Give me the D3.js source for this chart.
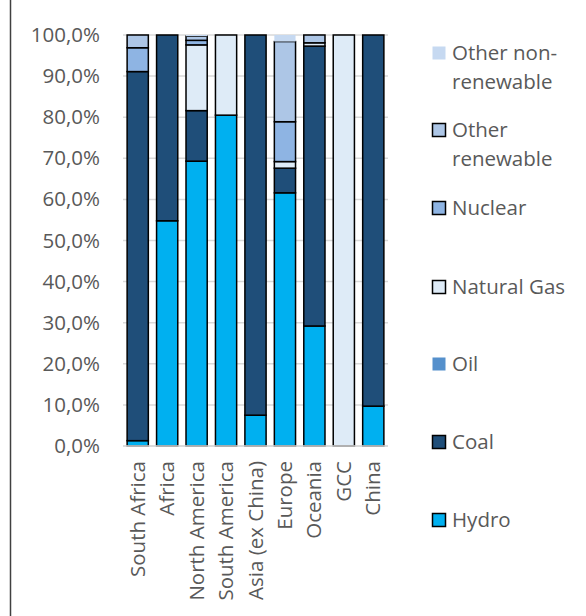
<!DOCTYPE html>
<html>
<head>
<meta charset="utf-8">
<script src="https://d3js.org/d3.v7.min.js"></script>
<style>
  body { margin: 0; background: #fff; }
  text { font-family: "Open Sans", "Noto Sans", sans-serif; fill: #595959; }
</style>
</head>
<body>
<div id="chart"></div>
<script>
// regions along the x axis
const regions = ["South Africa", "Africa", "North America", "South America",
  "Asia (ex China)", "Europe", "Oceania", "GCC", "China"];

// share of generation per source (%), one value per region
const hydro       = [1.3, 54.8, 69.3, 80.5, 7.5, 61.6, 29.2, 0, 9.7];
const coal        = [89.8, 45.2, 12.3, 0, 92.5, 6.0, 68.1, 0, 90.3];
const oil         = [0, 0, 0, 0, 0, 0, 0, 0, 0];
const naturalGas  = [0, 0, 16.0, 19.5, 0, 1.6, 0.8, 100, 0];
const nuclear     = [5.8, 0, 1.1, 0, 0, 9.7, 0, 0, 0];
const otherRenew  = [3.1, 0, 1.0, 0, 0, 19.5, 1.9, 0, 0];
const otherNonRen = [0, 0, 0.3, 0, 0, 1.6, 0, 0, 0];

const yTicks = [0, 10, 20, 30, 40, 50, 60, 70, 80, 90, 100];

const series = [
  {name: "Hydro", values: hydro, color: "#00b0f0", border: true},
  {name: "Coal", values: coal, color: "#1f4e79", border: true},
  {name: "Oil", values: oil, color: "#5590cc", border: false},
  {name: "Natural Gas", values: naturalGas, color: "#deebf7", border: true},
  {name: "Nuclear", values: nuclear, color: "#8eb4e3", border: true},
  {name: "Other renewable", values: otherRenew, color: "#adc6e6", border: true},
  {name: "Other non-renewable", values: otherNonRen, color: "#c6d9f1", border: false}
];

const W = 586, H = 616;
const svg = d3.select("#chart").append("svg").attr("width", W).attr("height", H);

// chart area border (only the left edge shows in the crop)
svg.append("line").attr("x1", 10.5).attr("x2", 10.5).attr("y1", 0).attr("y2", H)
  .attr("stroke", "#404040").attr("stroke-width", 1.5);

const x = d3.scaleBand().domain(regions).range([123, 388]).paddingInner(0.28).paddingOuter(0.14);
const y = d3.scaleLinear().domain([0, 100]).range([446, 35]);

// gridlines
svg.append("g").selectAll("line").data(yTicks).enter().append("line")
  .attr("x1", 123).attr("x2", 388)
  .attr("y1", d => y(d)).attr("y2", d => y(d))
  .attr("stroke", "#d9d9d9").attr("stroke-width", 1.5);

// y axis labels
const yAxis = d3.axisLeft(y).tickValues(yTicks).tickSize(0).tickPadding(0)
  .tickFormat(d => d.toFixed(1).replace(".", ",") + "%");
const ya = svg.append("g").attr("transform", "translate(100,0)").call(yAxis);
ya.select(".domain").remove();
ya.selectAll("text").style("font-size", "20.5px").attr("fill", "#595959");

// stacked bars
const rows = regions.map((r, i) => {
  const o = {region: r};
  series.forEach(s => o[s.name] = s.values[i]);
  return o;
});
const stack = d3.stack().keys(series.map(s => s.name))(rows);

stack.forEach((layer, k) => {
  const s = series[k];
  svg.append("g").selectAll("rect").data(layer.filter(d => d[1] - d[0] > 0)).enter().append("rect")
    .attr("x", d => x(d.data.region))
    .attr("width", x.bandwidth())
    .attr("y", d => y(d[1]))
    .attr("height", d => y(d[0]) - y(d[1]))
    .attr("fill", s.color)
    .attr("stroke", s.border ? "#000" : "none")
    .attr("stroke-width", 1.5);
});

// x axis baseline
svg.append("line").attr("x1", 123).attr("x2", 388).attr("y1", y(0)).attr("y2", y(0))
  .attr("stroke", "#d9d9d9").attr("stroke-width", 1.5);

// category labels
svg.append("g").selectAll("text").data(regions).enter().append("text")
  .attr("transform", d => `translate(${x(d) + x.bandwidth() / 2 + 7},461) rotate(-90)`)
  .attr("text-anchor", "end")
  .style("font-size", "20.5px")
  .text(d => d);

// legend (reverse order, top to bottom)
const legendY = [53, 130, 208, 287, 364, 442, 520];
const legendLines = [["Other non-", "renewable"], ["Other", "renewable"], ["Nuclear"],
  ["Natural Gas"], ["Oil"], ["Coal"], ["Hydro"]];
const legendSeries = series.slice().reverse();
const lg = svg.append("g").selectAll("g").data(legendSeries).enter().append("g")
  .attr("transform", (d, i) => `translate(0,${legendY[i]})`);
lg.append("rect")
  .attr("x", 432.5).attr("y", -6.5).attr("width", 13).attr("height", 13)
  .attr("fill", d => d.color)
  .attr("stroke", d => d.border ? "#000" : "none")
  .attr("stroke-width", 1.5);
lg.append("text").attr("x", 452).attr("y", 7).style("font-size", "20.5px")
  .each(function(d, i) {
    d3.select(this).selectAll("tspan").data(legendLines[i]).enter().append("tspan")
      .attr("x", 452).attr("dy", (t, j) => j === 0 ? 0 : 29).text(t => t);
  });
</script>
</body>
</html>
